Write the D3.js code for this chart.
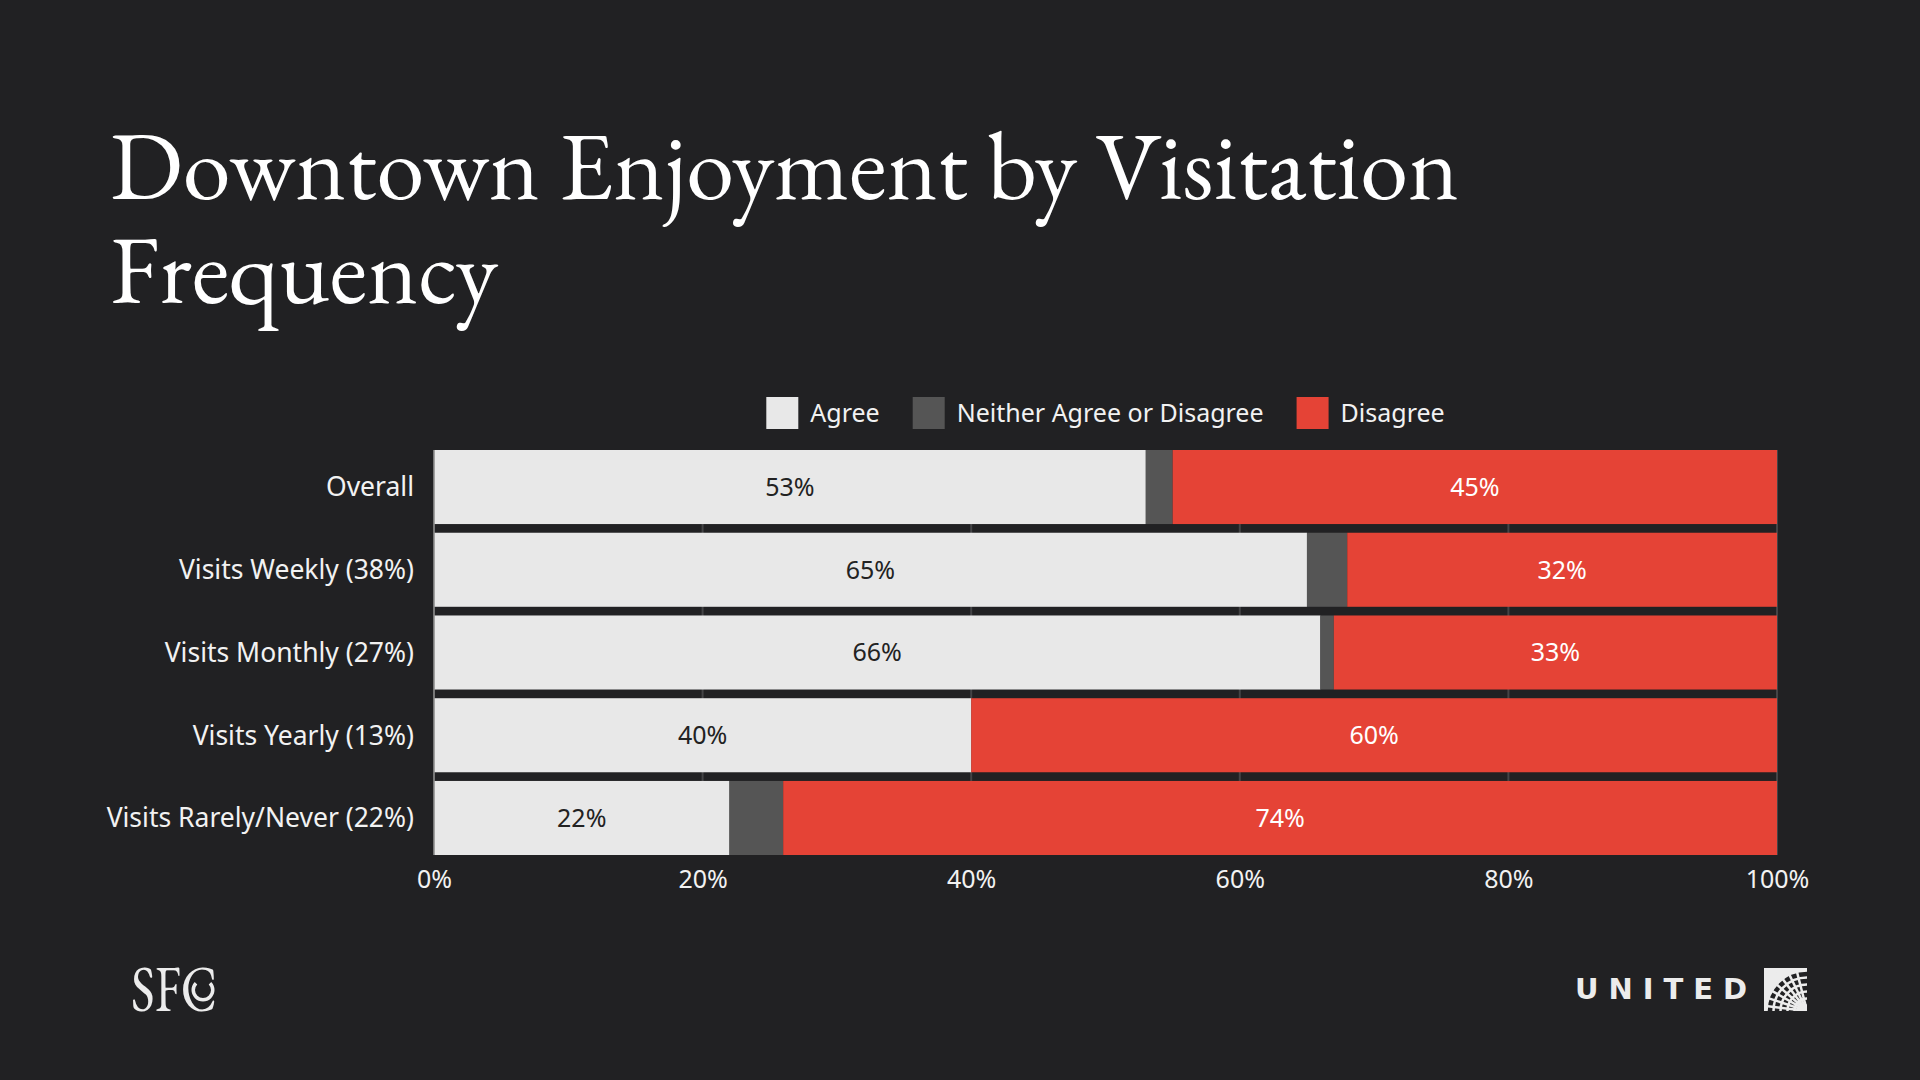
<!DOCTYPE html>
<html>
<head>
<meta charset="utf-8">
<script src="https://cdn.jsdelivr.net/npm/d3@7"></script>
<style>
  body { margin: 0; background: #212123; }
  svg { display: block; }
</style>
</head>
<body>
<svg></svg>
<script>
const size = {w: 1920, h: 1080};
const margins = {t: 450, r: 143, b: 225, l: 434};

// chart data
const categories = ['Overall', 'Visits Weekly (38%)', 'Visits Monthly (27%)', 'Visits Yearly (13%)', 'Visits Rarely/Never (22%)'];
const agree = [53, 65, 66, 40, 22];
const neither = [2, 3, 1, 0, 4];
const disagree = [45, 32, 33, 60, 74];
const seriesNames = ['Agree', 'Neither Agree or Disagree', 'Disagree'];
const tickValues = [0, 20, 40, 60, 80, 100];

const colors = ['#e8e8e8', '#555555', '#e54336'];
const sans = '"Noto Sans", "Open Sans", sans-serif';
const serif = '"EB Garamond", "Liberation Serif", serif';

const svg = d3.select('svg')
    .attr('width', size.w)
    .attr('height', size.h);

svg.append('rect')
    .attr('width', size.w).attr('height', size.h)
    .attr('fill', '#212123');

// title
const title = svg.append('text')
    .attr('x', 110)
    .attr('fill', '#ffffff')
    .style('font-family', serif)
    .style('font-size', '96.5px');
title.append('tspan').attr('x', 110).attr('y', 199).text('Downtown Enjoyment by Visitation');
title.append('tspan').attr('x', 110).attr('y', 303).text('Frequency');

// table for the stack
const table = categories.map((c, i) => ({
    cat: c, Agree: agree[i], 'Neither Agree or Disagree': neither[i], Disagree: disagree[i]
}));
const stacked = d3.stack().keys(seriesNames)(table);

const x = d3.scaleLinear()
    .domain([0, 100])
    .range([margins.l, size.w - margins.r]);

const y = d3.scaleBand()
    .domain(categories)
    .range([margins.t, size.h - margins.b])
    .paddingInner(0.105);

// gridlines
svg.append('g')
    .selectAll('line')
    .data(tickValues)
    .join('line')
    .attr('x1', d => x(d)).attr('x2', d => x(d))
    .attr('y1', margins.t).attr('y2', size.h - margins.b)
    .attr('stroke', '#444446')
    .attr('stroke-width', 2);

// bars
const layers = svg.append('g')
    .selectAll('g')
    .data(stacked)
    .join('g')
    .attr('fill', (d, i) => colors[i]);

layers.selectAll('rect')
    .data(d => d)
    .join('rect')
    .attr('x', d => x(d[0]))
    .attr('y', d => y(d.data.cat))
    .attr('width', d => x(d[1]) - x(d[0]))
    .attr('height', y.bandwidth());

// value labels (agree + disagree only)
stacked.forEach((layer, li) => {
    if (li === 1) return;
    svg.append('g')
        .selectAll('text')
        .data(layer)
        .join('text')
        .attr('x', d => (x(d[0]) + x(d[1])) / 2)
        .attr('y', d => y(d.data.cat) + y.bandwidth() / 2)
        .attr('dy', '0.35em')
        .attr('text-anchor', 'middle')
        .attr('fill', li === 0 ? '#222222' : '#ffffff')
        .style('font-family', sans)
        .style('font-size', '25px')
        .text(d => (d[1] - d[0]) + '%');
});

// left axis line
svg.append('line')
    .attr('x1', x(0)).attr('x2', x(0))
    .attr('y1', margins.t).attr('y2', size.h - margins.b)
    .attr('stroke', '#8a8a8a')
    .attr('stroke-width', 1.5);

// category labels
svg.append('g')
    .selectAll('text')
    .data(categories)
    .join('text')
    .attr('x', x(0) - 20)
    .attr('y', d => y(d) + y.bandwidth() / 2)
    .attr('dy', '0.35em')
    .attr('text-anchor', 'end')
    .attr('fill', '#f2f2f2')
    .style('font-family', sans)
    .style('font-size', '26.5px')
    .text(d => d);

// x axis
const xAxis = svg.append('g')
    .attr('transform', `translate(0, ${size.h - margins.b})`)
    .call(d3.axisBottom(x).tickValues(tickValues).tickFormat(d => d + '%').tickSize(0).tickPadding(15));
xAxis.select('.domain').remove();
xAxis.selectAll('text')
    .attr('fill', '#f2f2f2')
    .style('font-family', sans)
    .style('font-size', '25px');

// legend, centred over the plot
const legend = svg.append('g');
let lx = 0;
seriesNames.forEach((name, i) => {
    const g = legend.append('g').attr('transform', `translate(${lx}, 0)`);
    g.append('rect')
        .attr('x', 0).attr('y', -16)
        .attr('width', 32).attr('height', 32)
        .attr('fill', colors[i]);
    const t = g.append('text')
        .attr('x', 44).attr('dy', '0.35em')
        .attr('fill', '#f2f2f2')
        .style('font-family', sans)
        .style('font-size', '25px')
        .text(name);
    lx += 44 + t.node().getComputedTextLength() + 33;
});
const legendW = lx - 33;
legend.attr('transform', `translate(${(x(0) + x(100)) / 2 - legendW / 2}, 413)`);

// SFC mark: one text, the inner C drawn as an arc
const sfc = svg.append('g').attr('fill', '#ececec');
sfc.append('text').attr('x', 131).attr('y', 1011)
    .style('font-family', serif)
    .style('font-size', '64px')
    .attr('textLength', 86).attr('lengthAdjust', 'spacingAndGlyphs')
    .text('SFC');
sfc.append('path')
    .attr('transform', 'translate(203, 990)')
    .attr('d', d3.arc().innerRadius(8).outerRadius(11.5).startAngle(0.8).endAngle(2 * Math.PI - 0.8)())
    .attr('fill', '#ececec');

// United mark
svg.append('text')
    .attr('x', 1575).attr('y', 999)
    .attr('fill', '#ececec')
    .style('font-family', '"DejaVu Sans", "Liberation Sans", sans-serif')
    .style('font-weight', 'bold')
    .style('font-size', '29px')
    .attr('textLength', 172).attr('lengthAdjust', 'spacing')
    .text('UNITED');

const gx = 1764, gy = 968, gs = 43;
const globe = svg.append('g');
globe.append('clipPath').attr('id', 'gclip')
    .append('rect').attr('x', gx).attr('y', gy).attr('width', gs).attr('height', gs);
globe.append('rect')
    .attr('x', gx).attr('y', gy).attr('width', gs).attr('height', gs)
    .attr('fill', '#ececec');
const gg = globe.append('g').attr('clip-path', 'url(#gclip)');
gg.selectAll('circle')
    .data([9, 16, 23, 30, 37])
    .join('circle')
    .attr('cx', gx + gs).attr('cy', gy + gs)
    .attr('r', d => d)
    .attr('fill', 'none')
    .attr('stroke', '#212123')
    .attr('stroke-width', 4.5);
gg.selectAll('line')
    .data([0.12, 0.32, 0.52, 0.72, 0.92, 1.12, 1.32])
    .join('line')
    .attr('x1', gx + gs).attr('y1', gy + gs)
    .attr('x2', a => gx + gs - 60 * Math.cos(a))
    .attr('y2', a => gy + gs - 60 * Math.sin(a))
    .attr('stroke', '#ececec')
    .attr('stroke-width', 2.5);
</script>
</body>
</html>
